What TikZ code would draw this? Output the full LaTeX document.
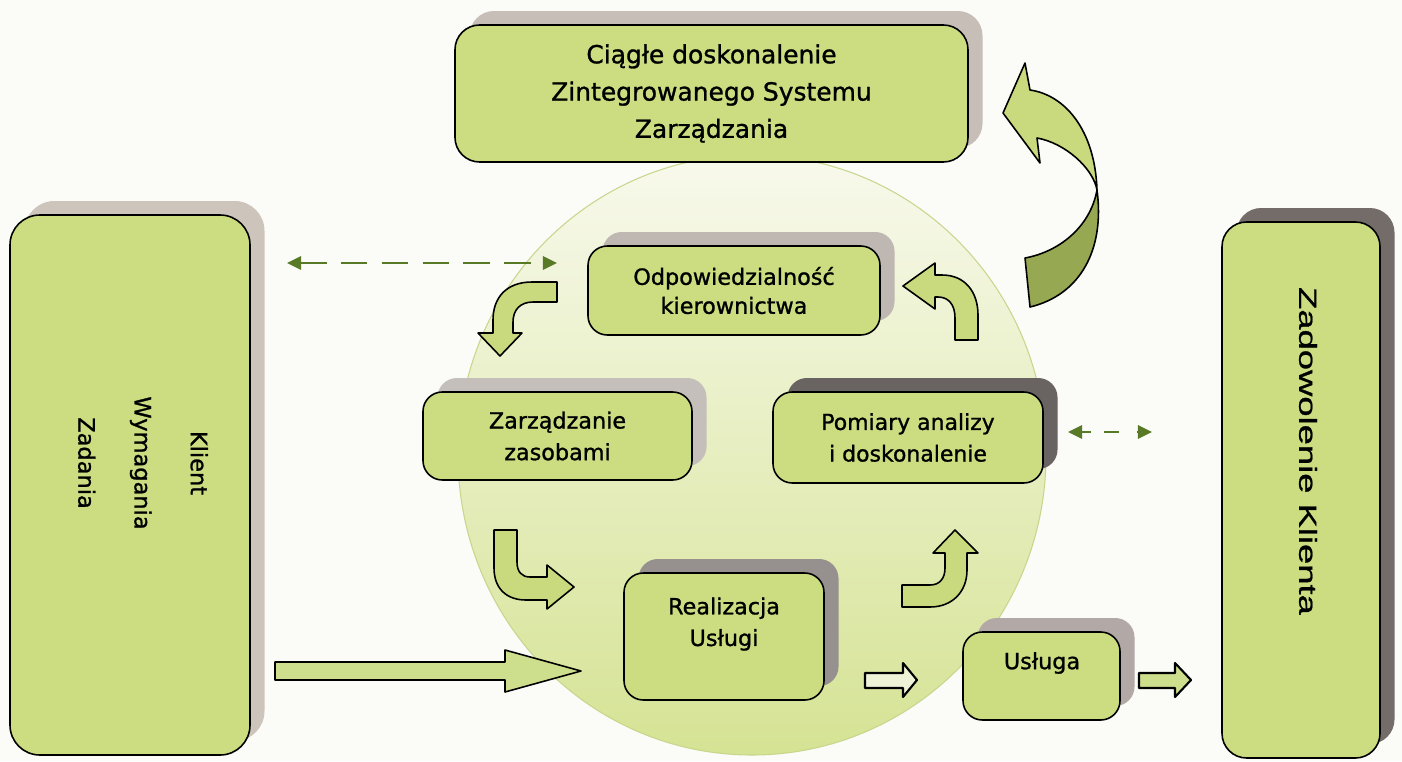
\documentclass[tikz,border=0pt]{standalone}
\usepackage{fontspec}
\setmainfont{DejaVu Sans}[FakeBold=1.1]
\newfontfamily\arialf{Liberation Sans}[FakeBold=0.8]
\usetikzlibrary{shadows,arrows.meta}
\definecolor{bg}{RGB}{251,251,248}
\definecolor{boxg}{RGB}{203,221,128}
\definecolor{arrg}{RGB}{200,218,125}
\definecolor{arrL}{RGB}{205,222,140}
\definecolor{hollow}{RGB}{238,242,215}
\definecolor{darkolive}{RGB}{150,168,82}
\definecolor{circtop}{RGB}{248,249,236}
\definecolor{circbot}{RGB}{213,227,148}
\definecolor{circedge}{RGB}{200,214,140}
\definecolor{dashg}{RGB}{88,122,38}
\definecolor{shTop}{RGB}{198,190,183}
\definecolor{shLeft}{RGB}{205,196,187}
\definecolor{shRight}{RGB}{115,108,104}
\definecolor{shOdp}{RGB}{190,183,178}
\definecolor{shZarz}{RGB}{196,191,186}
\definecolor{shPom}{RGB}{105,100,97}
\definecolor{shReal}{RGB}{150,145,142}
\definecolor{shUsl}{RGB}{178,168,166}
\begin{document}
\begin{tikzpicture}[x=0.02cm,y=-0.02cm,
  box/.style={draw=black, line width=0.9pt, fill=boxg, rounded corners=11pt, inner sep=0pt, align=center, font=\fontsize{12.7}{16.5}\selectfont},
  shd/.style={drop shadow={shadow xshift=0.29cm, shadow yshift=0.28cm, fill=#1, draw=none, opacity=1}},
  txt/.style={inner sep=0pt, align=center, font=\fontsize{12.7}{18}\selectfont},
  barrow/.style={draw=black, line width=0.9pt, fill=arrg, line join=round},
  dasharrow/.style={draw=dashg, line width=1.6pt, {Triangle[length=8pt,width=7.5pt]}-{Triangle[length=8pt,width=7.5pt]}}
]
\fill[bg] (0,0) rectangle (1402,761);
\useasboundingbox (0,0) rectangle (1402,761);

% central circle
\draw[circedge, line width=0.6pt, top color=circtop, bottom color=circbot] (752,455) ellipse [x radius=294, y radius=300];

% boxes
\node[box, shd=shTop, minimum width=513*0.02cm, minimum height=137*0.02cm, rounded corners=14pt, font=\fontsize{14.2}{21.2}\selectfont] (ciag) at (711.5,93.5) {Ciągłe doskonalenie\\Zintegrowanego Systemu\\Zarządzania};

\node[box, shd=shLeft, minimum width=240*0.02cm, minimum height=540*0.02cm, rounded corners=17pt] (klient) at (130,485) {};
\node[txt, rotate=-90, font=\fontsize{12.8}{32}\selectfont] (klientT) at (143,463) {Klient\\Wymagania\\Zadania};

\node[box, shd=shRight, minimum width=158*0.02cm, minimum height=536*0.02cm, rounded corners=14pt] (zad) at (1301,490) {};
\node[txt, rotate=-90, xscale=1.48, font=\arialf\fontsize{14}{16}\selectfont] (zadT) at (1308,451) {Zadowolenie Klienta};

\node[box, shd=shOdp, minimum width=292*0.02cm, minimum height=89*0.02cm] (odp) at (734,290.5) {Odpowiedzialność\\kierownictwa};
\node[box, shd=shZarz, minimum width=269*0.02cm, minimum height=88*0.02cm, font=\fontsize{12.7}{18}\selectfont] (zarz) at (557.5,436) {Zarządzanie\\zasobami};
\node[box, shd=shPom, minimum width=270*0.02cm, minimum height=91*0.02cm, font=\fontsize{12.5}{18}\selectfont] (pom) at (908,437.5) {Pomiary analizy\\i doskonalenie};
\node[box, shd=shReal, minimum width=200*0.02cm, minimum height=127*0.02cm] (real) at (724,636.5) {};
\node[txt, font=\fontsize{12.7}{18}\selectfont] (realT) at (724,624) {Realizacja\\Usługi};
\node[box, shd=shUsl, minimum width=157*0.02cm, minimum height=88*0.02cm] (usl) at (1041.5,676) {};
\node[txt] (uslT) at (1042,663) {Usługa};

% curved block arrows of the cycle
\draw[barrow] (557,282) -- (532,282) .. controls (507,282) and (493,297) .. (493,320) -- (493,333) -- (478,333) -- (500,356) -- (522,333) -- (513,333) -- (513,322) .. controls (513,310) and (520,302) .. (533,302) -- (557,302) -- cycle;
\draw[barrow] (955,340) -- (955,318) .. controls (955,304) and (948,297) .. (938,297) -- (935,297) -- (935,309) -- (903,286) -- (935,263) -- (935,275) -- (942,275) .. controls (965,275) and (978,292) .. (978,315) -- (978,340) -- cycle;
\draw[barrow] (494,530) -- (494,568) .. controls (494,588) and (506,600) .. (526,600) -- (547,600) -- (547,609) -- (574,587) -- (547,565) -- (547,577) -- (530,577) .. controls (522,577) and (517,572) .. (517,562) -- (517,530) -- cycle;
\draw[barrow] (902,585) -- (930,585) .. controls (940,585) and (945,578) .. (945,568) -- (945,553) -- (933,553) -- (955,530) -- (978,553) -- (967,553) -- (967,570) .. controls (967,592) and (952,607) .. (930,607) -- (902,607) -- cycle;

% big twisted arrow to the top box
\draw[barrow, fill=darkolive] (1097,190) .. controls (1105,250) and (1080,295) .. (1030,307) -- (1025,258) .. controls (1058,252) and (1090,228) .. (1097,190) -- cycle;
\draw[barrow] (1003,113) -- (1025,63) -- (1030,90) .. controls (1065,95) and (1095,130) .. (1097,190) .. controls (1093,168) and (1065,143) .. (1037,138) -- (1040,163) -- cycle;

% straight block arrows
\draw[barrow, fill=arrL] (275,662) -- (505,662) -- (505,650) -- (581,671) -- (505,692) -- (505,680) -- (275,680) -- cycle;
\draw[barrow, fill=hollow, line width=1.2pt] (865,673) -- (903,673) -- (903,663) -- (917,680) -- (903,697) -- (903,688) -- (865,688) -- cycle;
\draw[barrow, fill=arrL, line width=1.2pt] (1139,673) -- (1175,673) -- (1175,663) -- (1191,680) -- (1175,697) -- (1175,688) -- (1139,688) -- cycle;

% dashed double arrows
\coordinate (dl1) at (287,263);
\coordinate (dl2) at (557,263);
\draw[dasharrow, dash pattern=on 15pt off 8.2pt] (dl1) -- (dl2);
\coordinate (dr1) at (1068,432);
\coordinate (dr2) at (1152,432);
\draw[dasharrow, dash pattern=on 5.5pt off 7.5pt on 8.5pt off 10pt] (dr1) -- (dr2);
\end{tikzpicture}
\end{document}
